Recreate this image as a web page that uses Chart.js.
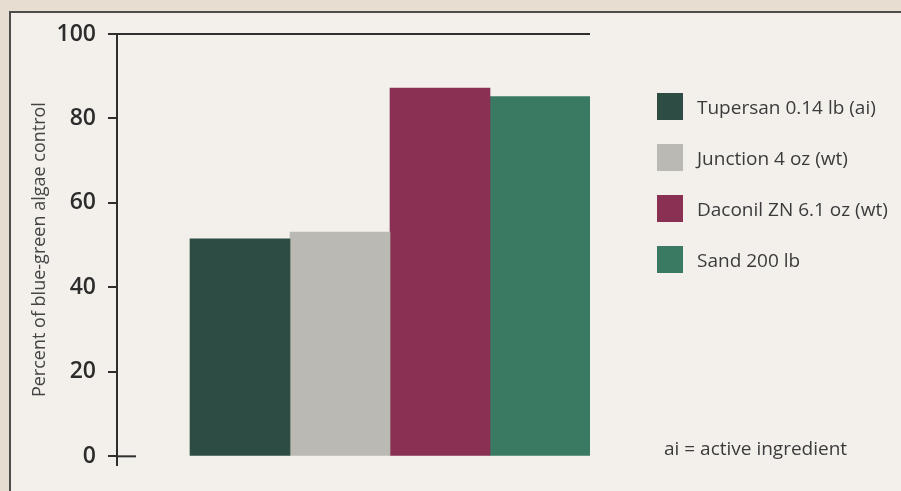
<!DOCTYPE html>
<html>
<head>
<meta charset="utf-8">
<script src="https://cdn.jsdelivr.net/npm/chart.js@4/dist/chart.umd.min.js"></script>
<style>
  html, body { margin: 0; padding: 0; }
  body { width: 901px; height: 491px; background: #e8ddd1; position: relative; overflow: hidden; font-family: 'Open Sans', sans-serif; }
  .panel { position: absolute; left: 9px; top: 11px; right: -5px; bottom: -5px; background: #f3f0ec; border-left: 2px solid #4f4d4b; border-top: 2px solid #4f4d4b; }
  #wrap { position: absolute; left: 0; top: 0; width: 901px; height: 491px; }
  .legend { position: absolute; left: 657px; top: 93px; list-style: none; margin: 0; padding: 0; }
  .legend li { display: flex; align-items: center; height: 27px; margin-bottom: 24px; font-size: 19px; color: #3b3b3b; white-space: nowrap; }
  .legend .box { width: 26px; height: 27px; margin-right: 14px; }
  .note { position: absolute; left: 664px; top: 435px; font-size: 19px; color: #3b3b3b; }
</style>
</head>
<body>
<div class="panel"></div>
<div id="wrap"><canvas id="algaeChart"></canvas></div>
<ul class="legend" id="legend"></ul>
<div class="note">ai = active ingredient</div>
<script>
// Treatments (legend) and percent control
const treatments = ['Tupersan 0.14 lb (ai)', 'Junction 4 oz (wt)', 'Daconil ZN 6.1 oz (wt)', 'Sand 200 lb'];
const controlPercent = [51.5, 53.1, 87.2, 85.2];
const barColors = ['#2d4c43', '#bab9b4', '#8a3153', '#3a7a62'];
const yTickValues = [0, 20, 40, 60, 80, 100];

const axisColor = '#2e2e2e';

// small crossing tick at 0 that goes into the plot
const zeroTick = {
    id: 'zeroTick',
    afterDatasetsDraw(chart) {
        const { ctx, chartArea, scales } = chart;
        const py = scales.y.getPixelForValue(yTickValues[0]);
        ctx.save();
        ctx.strokeStyle = axisColor;
        ctx.lineWidth = 2;
        ctx.beginPath();
        ctx.moveTo(chartArea.left, py);
        ctx.lineTo(chartArea.left + 19, py);
        ctx.stroke();
        ctx.restore();
    }
};

const ctx = document.getElementById('algaeChart').getContext('2d');

new Chart(ctx, {
    type: 'bar',
    data: {
        datasets: treatments.map((name, i) => ({
            label: name,
            data: [{ x: i + 1, y: controlPercent[i] }],
            backgroundColor: barColors[i],
            borderWidth: 0
        }))
    },
    options: {
        responsive: true,
        maintainAspectRatio: false,
        animation: false,
        grouped: false,
        barPercentage: 1,
        categoryPercentage: 1,
        layout: { padding: { left: 0, top: 34, right: 311, bottom: 25 } },
        scales: {
            x: {
                type: 'linear',
                display: false,
                offset: false,
                min: -0.23,
                max: 4.5,
                ticks: { stepSize: 1, includeBounds: false }
            },
            y: {
                min: -2.1,
                max: 100,
                afterFit: (scale) => { scale.width = 117; },
                afterBuildTicks: (scale) => {
                    scale.ticks = yTickValues.map(v => ({ value: v }));
                },
                border: { display: true, color: axisColor, width: 2 },
                grid: {
                    color: (c) => (c.tick && c.tick.value === 100 ? axisColor : 'transparent'),
                    lineWidth: 2,
                    tickColor: axisColor,
                    tickLength: 9,
                    drawTicks: true
                },
                ticks: {
                    padding: 12,
                    color: '#2c2c2c',
                    font: { family: 'Open Sans', size: 23, weight: '600' }
                },
                title: {
                    display: true,
                    text: 'Percent of blue-green algae control',
                    color: '#444',
                    font: { family: 'Open Sans', size: 18 },
                    padding: { top: 29, bottom: 0 }
                }
            }
        },
        plugins: {
            legend: { display: false },
            tooltip: { enabled: false }
        }
    },
    plugins: [zeroTick]
});

// HTML legend on the right
const legendEl = document.getElementById('legend');
treatments.forEach((name, i) => {
    const li = document.createElement('li');
    const box = document.createElement('span');
    box.className = 'box';
    box.style.background = barColors[i];
    li.appendChild(box);
    li.appendChild(document.createTextNode(name));
    legendEl.appendChild(li);
});
</script>
</body>
</html>
